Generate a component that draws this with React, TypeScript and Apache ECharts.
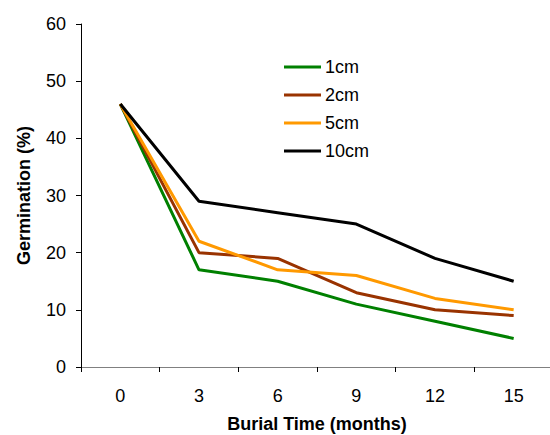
import React, { useEffect, useRef } from "react";
import * as echarts from "echarts";

const months = ["0", "3", "6", "9", "12", "15"];
const d1cm = [46, 17, 15, 11, 8, 5];
const d2cm = [46, 20, 19, 13, 10, 9];
const d5cm = [46, 22, 17, 16, 12, 10];
const d10cm = [46, 29, 27, 25, 19, 15];
const seriesNames = ["1cm", "2cm", "5cm", "10cm"];
const seriesColors = ["#008000", "#993300", "#FF9900", "#000000"];

const FONT = "Liberation Sans, Arial, sans-serif";

export default function App() {
  const ref = useRef<HTMLDivElement>(null);
  useEffect(() => {
    if (!ref.current) return;
    const chart = echarts.init(ref.current, null, { renderer: "svg" });
    const data = [d1cm, d2cm, d5cm, d10cm];
    chart.setOption({
      animation: false,
      backgroundColor: "#ffffff",
      textStyle: { fontFamily: FONT },
      grid: { left: 81, right: -3, top: 24, bottom: 68, containLabel: false, outerBoundsMode: "none" },
      legend: {
        orient: "vertical",
        left: 279,
        top: 52,
        itemWidth: 37,
        itemHeight: 3,
        itemGap: 8,
        icon: "rect",
        textStyle: { fontSize: 18, color: "#000", fontFamily: FONT, lineHeight: 20, padding: [0, 0, 0, -1] },
        data: seriesNames,
      },
      xAxis: {
        type: "category",
        data: months,
        boundaryGap: true,
        name: "Burial Time (months)",
        nameLocation: "middle",
        nameGap: 49,
        nameTextStyle: { fontSize: 18, lineHeight: 16, fontWeight: "bold", color: "#000", fontFamily: FONT },
        axisLine: { lineStyle: { color: "#808080", width: 1 } },
        axisTick: { show: true, alignWithLabel: false, length: 5, lineStyle: { color: "#000" } },
        axisLabel: { fontSize: 18, color: "#000", margin: 20, fontFamily: FONT },
        splitLine: { show: false },
      },
      yAxis: {
        type: "value",
        min: 0,
        max: 60,
        interval: 10,
        name: "Germination (%)",
        nameLocation: "middle",
        nameGap: 48,
        nameTextStyle: { fontSize: 18, fontWeight: "bold", color: "#000", fontFamily: FONT },
        axisLine: { show: true, lineStyle: { color: "#000", width: 1 } },
        axisTick: { show: true, length: 5, lineStyle: { color: "#000" } },
        axisLabel: { fontSize: 18, color: "#000", margin: 15, fontFamily: FONT },
        splitLine: { show: false },
      },
      series: data.map((d, i) => ({
        name: seriesNames[i],
        type: "line",
        data: d,
        symbol: "none",
        lineStyle: { color: seriesColors[i], width: 3 },
        itemStyle: { color: seriesColors[i] },
      })),
    });
    return () => chart.dispose();
  }, []);
  return <div ref={ref} style={{ width: 550, height: 435, position: "absolute", left: 0, top: 0 }} />;
}
